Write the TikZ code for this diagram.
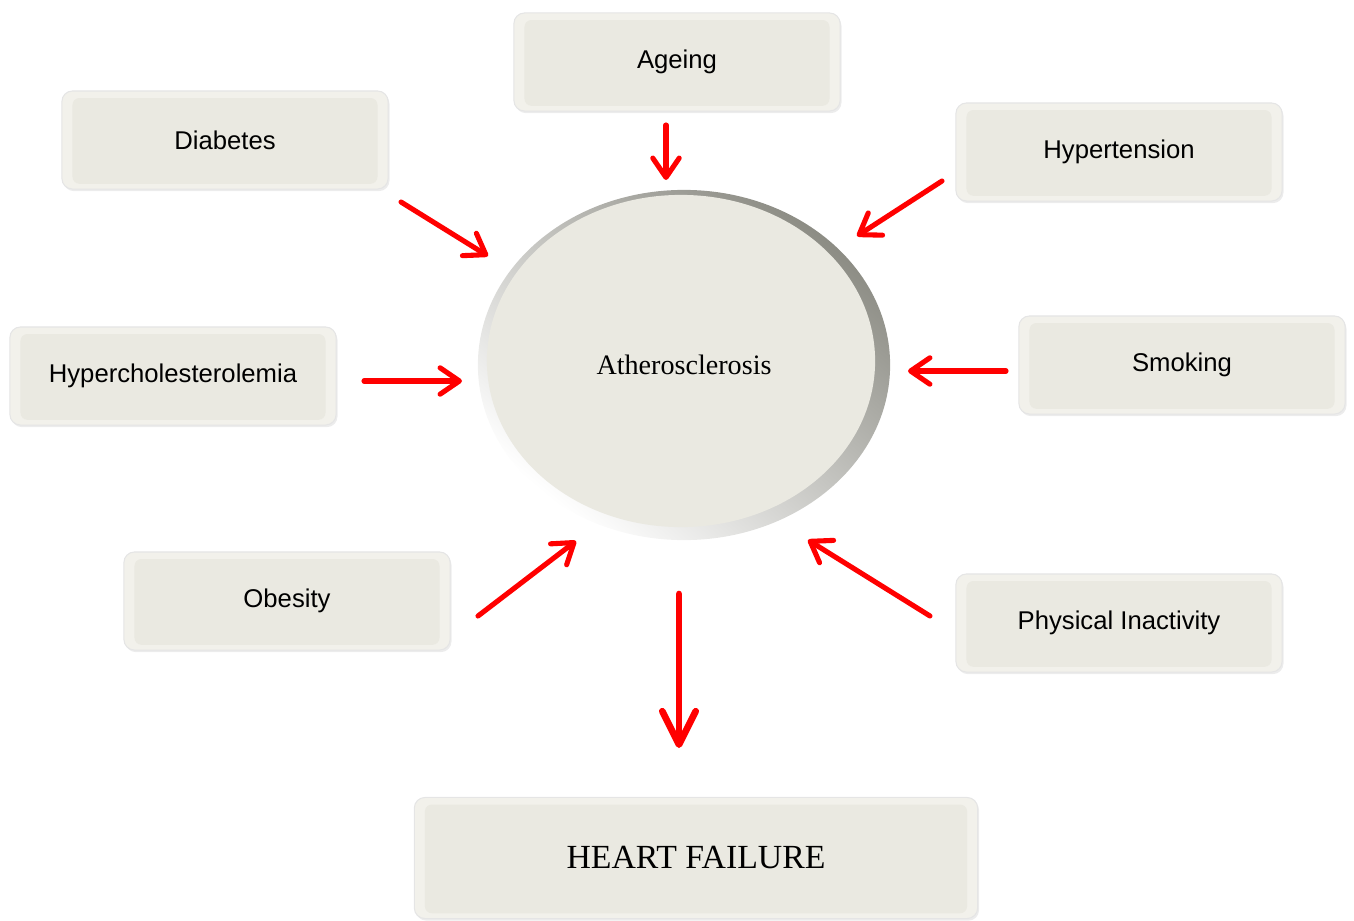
\documentclass[tikz,border=0pt]{standalone}
\usepackage{fontspec}
\setmainfont{Liberation Serif}
\setsansfont{Liberation Sans}
\usetikzlibrary{arrows.meta,shapes.geometric,shadows}
\definecolor{boxface}{RGB}{234,233,225}
\definecolor{boxrim}{RGB}{242,241,235}
\definecolor{rimdark}{RGB}{140,140,132}
\definecolor{riskred}{RGB}{255,0,0}
\newcommand{\BW}{3.26cm}
\newcommand{\BH}{0.98cm}

\tikzset{
  factor/.style={rectangle, rounded corners=3pt, minimum width=\BW, minimum height=\BH,
    fill=boxrim, draw=black!10, line width=0.3pt,
    font=\sffamily\fontsize{7.3}{8}\selectfont,
    drop shadow={opacity=0.15, shadow xshift=0.4pt, shadow yshift=-0.6pt},
    path picture={\fill[boxface, rounded corners=2pt]
      ([xshift=3pt,yshift=1.5pt]path picture bounding box.south west) rectangle
      ([xshift=-3pt,yshift=-2pt]path picture bounding box.north east);}},
  athnode/.style={ellipse, minimum width=4.12cm, minimum height=3.5cm, inner sep=0pt,
    top color=rimdark, bottom color=white, shading angle=-40,
    font=\fontsize{8}{9}\selectfont,
    path picture={\fill[boxface]
      ([xshift=-0.03cm,yshift=0.04cm]path picture bounding box.center)
      ellipse (1.94cm and 1.66cm);}},
  riskarrow/.style={riskred, line width=1.45pt, line cap=round,
    -{Straight Barb[length=5.5pt,width=7.5pt,round]}},
  outarrow/.style={riskred, line width=1.9pt, line cap=round,
    -{Straight Barb[length=9.5pt,width=9.5pt,round]}},
}

\begin{document}
\begin{tikzpicture}[x=0.01cm, y=-0.01cm]

  \useasboundingbox (0,0) rectangle (1354,921);

  %% risk factors
  \node[factor] (ageing) at (677, 62) {Ageing};
  \node[factor] (diab)   at (225,140) {Diabetes};
  \node[factor] (hyper)  at (1119,152) {Hypertension};
  \node[factor] (chol)   at (173,376) {Hypercholesterolemia};
  \node[factor] (smok)   at (1182,365) {Smoking};
  \node[factor] (obes)   at (287,601) {Obesity};
  \node[factor] (phys)   at (1119,623) {Physical Inactivity};

  %% centre and outcome
  \node[athnode] (ath) at (684,365) {Atherosclerosis};
  \node[factor, minimum width=5.63cm, minimum height=1.21cm,
        font=\fontsize{9.6}{11}\selectfont] (hf) at (696,858) {HEART FAILURE};

  %% arrow ends
  \coordinate (ageing-a) at (666,125);  \coordinate (ageing-b) at (666,180);
  \coordinate (diab-a)   at (401,202);  \coordinate (diab-b)   at (488,256);
  \coordinate (hyper-a)  at (942,181);  \coordinate (hyper-b)  at (857,236);
  \coordinate (chol-a)   at (364,381);  \coordinate (chol-b)   at (462,381);
  \coordinate (smok-a)   at (1006,371); \coordinate (smok-b)   at (908,371);
  \coordinate (obes-a)   at (478,616);  \coordinate (obes-b)   at (576,541);
  \coordinate (phys-a)   at (930,616);  \coordinate (phys-b)   at (808,540);
  \coordinate (hf-a)     at (679,594);  \coordinate (hf-b)     at (679,748);

  \draw[riskarrow] (ageing-a) -- (ageing-b); %% ageing
  \draw[riskarrow] (diab-a) -- (diab-b);     %% diabetes
  \draw[riskarrow] (hyper-a) -- (hyper-b);   %% hypertension
  \draw[riskarrow] (chol-a) -- (chol-b);     %% cholesterol
  \draw[riskarrow] (smok-a) -- (smok-b);     %% smoking
  \draw[riskarrow] (obes-a) -- (obes-b);     %% obesity
  \draw[riskarrow] (phys-a) -- (phys-b);     %% inactivity
  \draw[outarrow]  (hf-a) -- (hf-b);         %% to heart failure

\end{tikzpicture}
\end{document}
